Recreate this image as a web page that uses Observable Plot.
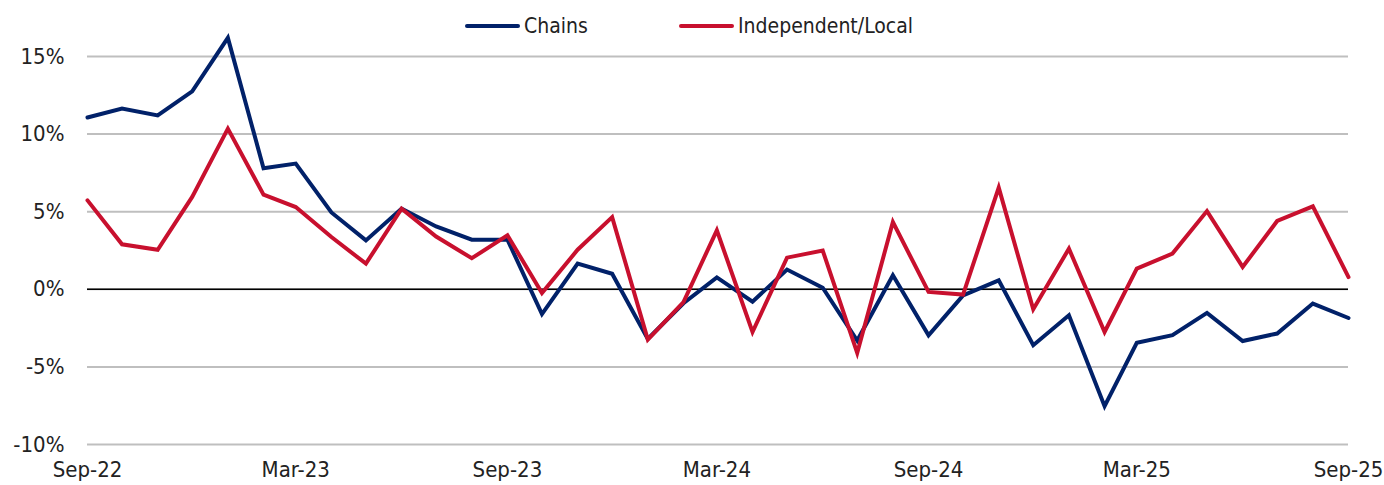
<!DOCTYPE html>
<html><head><meta charset="utf-8">
<script src="https://cdn.jsdelivr.net/npm/d3@7"></script>
<script src="https://cdn.jsdelivr.net/npm/@observablehq/plot@0.6"></script>
<style>
body{margin:0;background:#fff;font-family:"Liberation Sans Narrow","Arial Narrow","DejaVu Sans Condensed",sans-serif;}
#wrap{position:relative;width:1384px;height:485px;overflow:hidden}
.item{position:absolute;top:12px;height:28px;display:flex;align-items:center;font-size:21px;color:#222;white-space:nowrap}
.sw{display:inline-block;width:55px;height:4px;border-radius:2px;margin-right:4px}
svg{overflow:visible}
</style>
</head><body>
<div id="wrap">
  <div id="chart"></div>
</div>
<script>
const months = ["2022-09","2022-10","2022-11","2022-12","2023-01","2023-02","2023-03","2023-04","2023-05","2023-06","2023-07","2023-08",
"2023-09","2023-10","2023-11","2023-12","2024-01","2024-02","2024-03","2024-04","2024-05","2024-06","2024-07","2024-08",
"2024-09","2024-10","2024-11","2024-12","2025-01","2025-02","2025-03","2025-04","2025-05","2025-06","2025-07","2025-08","2025-09"];
const chains = [11.07,11.65,11.2,12.75,16.2,7.8,8.1,4.95,3.15,5.2,4.05,3.2,
3.2,-1.6,1.65,1.0,-3.2,-0.9,0.77,-0.8,1.27,0.1,-3.3,0.9,
-2.96,-0.4,0.58,-3.6,-1.67,-7.53,-3.45,-2.96,-1.52,-3.33,-2.85,-0.92,-1.85];
const independent = [5.73,2.9,2.55,5.95,10.35,6.1,5.3,3.37,1.65,5.2,3.4,2.0,
3.48,-0.24,2.55,4.65,-3.24,-0.82,3.8,-2.75,2.04,2.5,-4.1,4.33,
-0.17,-0.34,6.55,-1.29,2.62,-2.75,1.33,2.3,5.04,1.44,4.4,5.34,0.79];
const seriesNames = ["Chains","Independent/Local"];
const seriesColors = ["#012169","#c8102e"];
const xTickLabels = ["2022-09","2023-03","2023-09","2024-03","2024-09","2025-03","2025-09"];
const yTicks = [-10,-5,0,5,10,15];

const parse = d3.utcParse("%Y-%m");
const rows = [];
months.forEach((m,i)=>{
  rows.push({date:parse(m), value:chains[i], series:seriesNames[0]});
});
months.forEach((m,i)=>{
  rows.push({date:parse(m), value:independent[i], series:seriesNames[1]});
});

const font = '"Liberation Sans Narrow","Arial Narrow","DejaVu Sans Condensed",sans-serif';
const chart = Plot.plot({
  width:1384, height:485,
  marginLeft:87, marginRight:36, marginTop:56, marginBottom:41,
  style:{fontSize:"22px", fontFamily:font, color:"#222", background:"#fff", overflow:"visible"},
  x:{type:"utc", domain:[parse(months[0]), parse(months[months.length-1])],
     ticks: xTickLabels.map(parse), tickFormat:d3.utcFormat("%b-%y"), tickSize:0, tickPadding:17, label:null},
  y:{domain:[-10,15], ticks:yTicks, tickFormat:d=>d+"%", tickSize:0, tickPadding:23, label:null},
  color:{domain:seriesNames, range:seriesColors},
  marks:[
    Plot.gridY(yTicks,{stroke:"#bfbfbf", strokeOpacity:1, strokeWidth:2}),
    Plot.ruleY([0],{stroke:"#000", strokeWidth:1.5}),
    Plot.lineY(rows,{x:"date", y:"value", z:"series", stroke:"series", strokeWidth:4, strokeLinejoin:"miter", strokeMiterlimit:4})
  ]
});
document.getElementById("chart").appendChild(chart);

const wrap = document.getElementById("wrap");
const legendLefts = [465, 679];
seriesNames.forEach((n,i)=>{
  const it = document.createElement("div");
  it.className = "item";
  it.style.left = legendLefts[i] + "px";
  it.innerHTML = `<span class="sw" style="background:${seriesColors[i]}"></span><span>${n}</span>`;
  wrap.appendChild(it);
});
</script>
</body></html>
